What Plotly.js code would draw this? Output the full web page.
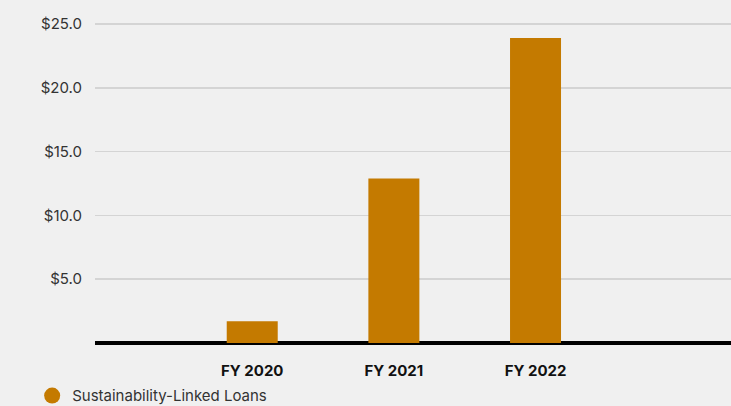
<!DOCTYPE html>
<html>
<head>
<meta charset="utf-8">
<script src="https://cdn.plot.ly/plotly-3.0.1.min.js"></script>
<style>html,body{margin:0;padding:0;background:#f0f0f0;}#chart{width:731px;height:406px;}</style>
</head>
<body>
<div id="chart"></div>
<script>
const categories = ["FY 2020", "FY 2021", "FY 2022"];
const loanValues = [1.7, 12.9, 23.9];
const seriesName = "Sustainability-Linked Loans";
const yTickVals = [5, 10, 15, 20, 25];
const yTickText = ["$5.0", "$10.0", "$15.0", "$20.0", "$25.0"];

const barColor = "#C47A00";

const data = [
  {
    type: "bar",
    x: categories,
    y: loanValues,
    marker: {color: barColor},
    width: 0.36,
    showlegend: false,
    hoverinfo: "x+y"
  },
  {
    type: "scatter",
    mode: "markers",
    x: [null],
    y: [null],
    name: seriesName,
    marker: {color: barColor, size: 20, symbol: "circle"},
    showlegend: true
  }
];

const layout = {
  width: 731,
  height: 406,
  paper_bgcolor: "#f0f0f0",
  plot_bgcolor: "#f0f0f0",
  margin: {l: 95, r: 0, t: 10, b: 63},
  font: {family: "Inter, 'Open Sans', sans-serif", color: "#333333", size: 15},
  xaxis: {
    type: "category",
    range: [-1.11, 3.38],
    showgrid: false,
    zeroline: false,
    showline: false,
    ticks: "",
    ticklabelstandoff: 17,
    tickfont: {size: 15, color: "#111111", family: "Inter, sans-serif", weight: "bold"}
  },
  yaxis: {
    range: [0, 26.1],
    tickvals: yTickVals,
    ticktext: yTickText,
    showgrid: true,
    gridcolor: "#d4d4d4",
    gridwidth: 1.5,
    zeroline: true,
    zerolinecolor: "#000000",
    zerolinewidth: 4,
    showline: false,
    ticks: "",
    ticklabelstandoff: 12,
    tickfont: {size: 15, color: "#333333"}
  },
  legend: {
    orientation: "h",
    xref: "container",
    yref: "container",
    x: 0.044,
    xanchor: "left",
    y: 0.025,
    yanchor: "middle",
    bgcolor: "rgba(0,0,0,0)",
    font: {size: 15, color: "#333333"}
  },
  showlegend: true,
  bargap: 0.64
};

Plotly.newPlot("chart", data, layout, {displayModeBar: false, staticPlot: true});
</script>
</body>
</html>
